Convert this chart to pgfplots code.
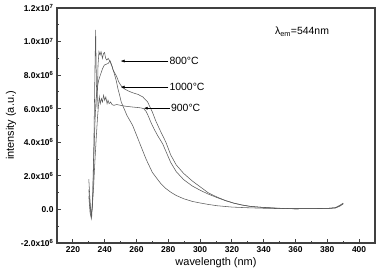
\documentclass[border=0pt]{standalone}
\usepackage{fontspec}
\setmainfont{Liberation Sans}
\usepackage{pgfplots}
\pgfplotsset{compat=1.18}
\usetikzlibrary{arrows.meta}
\definecolor{ln}{HTML}{5A5A5A}
\definecolor{fr}{HTML}{404040}
\begin{document}
\begin{tikzpicture}
\begin{axis}[name=ax,
  scale only axis, width=318bp, height=235bp,
  xmin=210, xmax=410, ymin=-2, ymax=12,
  xtick={220,240,...,400},
  minor x tick num=1,
  ytick={-2,0,2,4,6,8,10,12},
  minor y tick num=1,
  yticklabels={-2.0x10\textsuperscript{6},0.0,2.0x10\textsuperscript{6},4.0x10\textsuperscript{6},6.0x10\textsuperscript{6},8.0x10\textsuperscript{6},1.0x10\textsuperscript{7},1.2x10\textsuperscript{7}},
  xticklabel style={font=\fontsize{8.5}{10}\selectfont\bfseries},
  yticklabel style={font=\fontsize{8.5}{10}\selectfont\bfseries},
  /pgf/number format/assume math mode=true,
  tick align=inside,
  xtick pos=bottom, ytick pos=left,
  major tick length=4bp, minor tick length=2bp,
  axis line style={fr, line width=1.1pt},
  tick style={fr, line width=0.9pt},
  xlabel={wavelength (nm)}, ylabel={intensity (a.u.)},
  xlabel style={font=\fontsize{11}{13}\selectfont, yshift=2bp},
  ylabel style={font=\fontsize{11}{13}\selectfont, yshift=-2bp},
  clip=true,
]
% 800 C
\addplot[ln, no marks, line width=0.55pt] coordinates {
(230,1.8)(230.6,0.8)(231.3,-0.2)(231.8,-0.5)(232.5,1.0)(233.2,4.0)(233.9,8.5)(234.3,10.7)(234.8,7.5)(235.2,6.0)(235.8,8.6)(236.4,9.4)(237.1,9.2)(237.7,9.4)(238.6,9.0)(239.3,9.3)(239.9,9.35)(240.6,9.0)(241.3,8.9)(242.2,9.0)(243.4,8.8)(244.7,8.5)(246,8.1)(247.2,7.7)(248.3,7.2)(249.4,6.8)(250.4,6.4)(254,5.6)(257.6,5.0)(261.8,4.0)(266,3.0)(270,2.2)(275.2,1.55)(278,1.28)(281.5,1.03)(285,0.83)(289.6,0.64)(295,0.48)(300.3,0.38)(305,0.3)(310.8,0.22)(320,0.14)(330,0.1)(340,0.07)(350,0.05)(360,0.04)(370,0.05)(380,0.06)(385,0.08)(388,0.2)(390,0.35)
};
% 1000 C
\addplot[ln, no marks, line width=0.55pt] coordinates {
(230,1.2)(230.7,0.3)(231.5,-0.4)(232.3,0.2)(233,2.5)(233.8,5.0)(234.5,6.5)(235.3,7.2)(236.2,7.7)(237.6,8.1)(238.7,8.4)(239.8,8.6)(241,8.65)(242.2,8.7)(243.4,8.85)(244.4,8.6)(245.3,8.3)(246.5,8.1)(247.6,7.9)(248.8,7.6)(250.1,7.4)(251.3,7.25)(253,7.15)(255,7.05)(257.6,6.95)(261,6.85)(264,6.7)(267,6.4)(270,5.8)(272,5.3)(274.4,4.8)(278.5,4.0)(281.5,3.25)(285,2.65)(289.6,2.15)(295,1.7)(300.3,1.33)(305,1.0)(310.8,0.73)(316,0.53)(321,0.38)(326,0.27)(331.7,0.18)(338,0.13)(344,0.1)(350,0.07)(360,0.04)(370,0.05)(380,0.06)(385,0.1)(388,0.25)(390,0.38)
};
% 900 C
\addplot[ln, no marks, line width=0.55pt] coordinates {
(230,0.8)(230.8,-0.2)(231.5,-0.5)(232.3,0.3)(233,1.3)(233.8,2.8)(234.7,4.3)(235.5,5.5)(236.1,6.2)(236.6,6.7)(237.2,6.3)(237.9,6.6)(238.6,6.4)(239.3,6.8)(240,6.5)(240.7,6.7)(241.5,6.3)(242.1,6.5)(242.8,6.3)(243.7,6.4)(244.6,6.25)(245.8,6.2)(247.5,6.25)(250.1,6.2)(253,6.15)(257.6,6.1)(262.8,6.05)(264.5,6.0)(266,5.85)(267.5,5.55)(269,5.2)(271,4.8)(273.3,4.4)(276.5,3.9)(279,3.35)(281.5,2.8)(285,2.25)(289.6,1.78)(295,1.4)(300.3,1.13)(305,0.92)(310.8,0.7)(316,0.52)(321,0.38)(326,0.27)(331.7,0.18)(338,0.13)(345,0.09)(350,0.06)(360,0.04)(370,0.05)(380,0.06)(385,0.1)(388,0.22)(390,0.33)
};
\draw[black, line width=0.5pt, -{Latex[length=4bp,width=3bp]}] (axis cs:280,8.84) -- (axis cs:250,8.84);
\draw[black, line width=0.5pt, -{Latex[length=4bp,width=3bp]}] (axis cs:280,7.29) -- (axis cs:250,7.29);
\draw[black, line width=0.5pt, -{Latex[length=4bp,width=3bp]}] (axis cs:281,6.03) -- (axis cs:264.5,6.03);
\node[anchor=west, inner sep=1bp, font=\fontsize{10.5}{12}\selectfont] at (axis cs:280,8.84) {800°C};
\node[anchor=west, inner sep=1bp, font=\fontsize{10.5}{12}\selectfont] at (axis cs:280,7.29) {1000°C};
\node[anchor=west, inner sep=1bp, font=\fontsize{10.5}{12}\selectfont] at (axis cs:281,6.03) {900°C};
\node[anchor=west, inner sep=0pt, font=\fontsize{10.5}{12}\selectfont] at (axis cs:347,10.6) {λ\textsubscript{em}=544nm};
\end{axis}
\pgfresetboundingbox
\path ([xshift=-57bp,yshift=-32bp]ax.south west) rectangle ([xshift=3bp,yshift=8bp]ax.north east);
\end{tikzpicture}
\end{document}
